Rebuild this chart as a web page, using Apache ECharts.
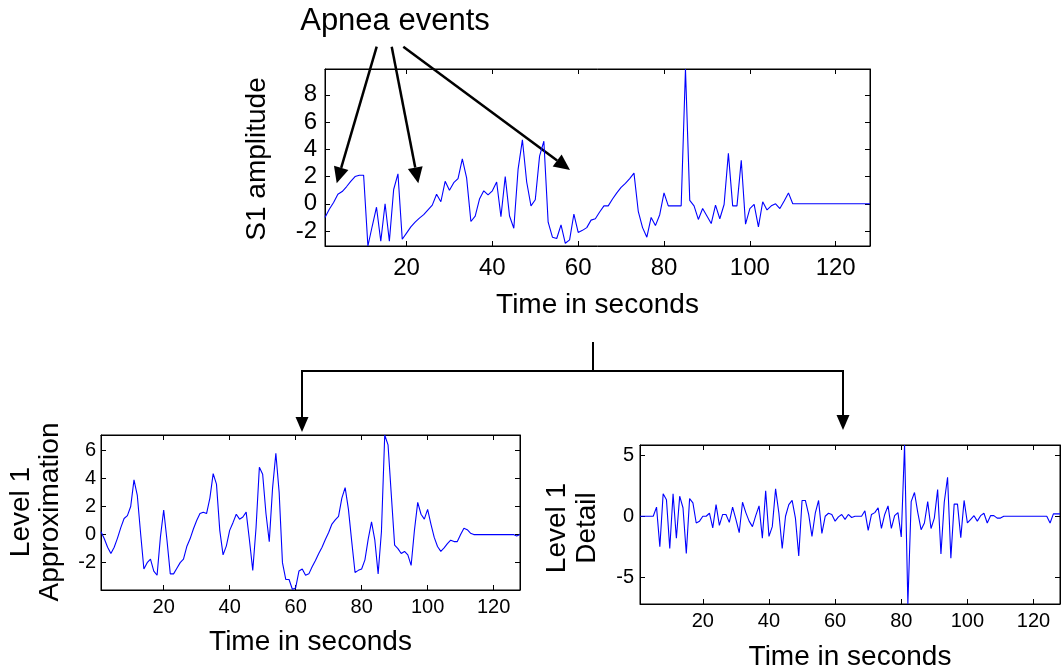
<!DOCTYPE html>
<html>
<head>
<meta charset="utf-8">
<title>S1 amplitude – level 1 wavelet decomposition</title>
<script src="https://cdn.jsdelivr.net/npm/echarts@6/dist/echarts.min.js"></script>
<style>
  html, body { margin: 0; padding: 0; background: #fff; }
  #chart { width: 1061px; height: 672px; }
</style>
</head>
<body>
<div id="chart"></div>
<script>
// Sampled signal, one value per second (t = 1 … 128)
const s1Amplitude = [
  -1.0, -0.4, 0.1, 0.7, 0.9, 1.25, 1.65, 2.0, 2.1, 2.1,
  -3.1, -1.65, -0.25, -2.75, 0.0, -2.75, 1.05, 2.2, -2.6, -2.15,
  -1.7, -1.35, -1.05, -0.8, -0.45, -0.1, 0.7, 0.15, 1.65, 1.0,
  1.55, 1.85, 3.3, 1.9, -1.3, -0.9, 0.35, 0.95, 0.65, 0.95,
  1.6, -0.95, 2.0, -0.9, -1.8, 2.55, 4.7, 1.6, -0.15, 0.3,
  3.5, 4.6, -1.35, -2.45, -2.55, -1.55, -2.9, -2.65, -0.75, -2.1,
  -1.95, -1.75, -1.2, -1.1, -0.6, -0.15, -0.15, 0.35, 0.8, 1.2,
  1.5, 1.85, 2.25, -0.55, -1.75, -2.45, -1.0, -1.6, -0.8, 0.8,
  -0.15, -0.15, -0.15, -0.15, 9.9, 0.25, -0.15, -1.15, -0.35, -0.9,
  -1.45, -0.1, -1.1, -0.05, 3.7, -0.15, -0.15, 3.2, -1.5, -0.35,
  -0.05, -1.7, 0.15, -0.45, -0.15, 0.0, -0.35, 0.2, 0.8, 0.0,
  0, 0, 0, 0, 0, 0, 0, 0, 0, 0,
  0, 0, 0, 0, 0, 0, 0, 0
];

const level1Approx = [
  0.2, -0.3, -0.9, -1.35, -0.9, -0.25, 0.5, 1.15, 1.35, 2.0,
  3.9, 2.8, 0.1, -2.45, -2.0, -1.75, -2.6, -2.9, -0.2, 1.75,
  -0.4, -2.8, -2.8, -2.4, -2.0, -1.75, -0.85, -0.3, 0.4, 1.0,
  1.5, 1.6, 1.5, 2.6, 4.35, 3.6, 0.3, -1.45, -0.8, 0.3,
  0.85, 1.45, 1.1, 1.25, 1.6, -0.4, -2.55, 0.5, 4.8, 4.3,
  1.5, -0.5, 3.3, 5.8, 3.0, -2.0, -3.2, -3.2, -3.9, -3.8,
  -2.6, -2.45, -2.9, -2.8, -2.3, -1.85, -1.35, -0.9, -0.35, 0.15,
  0.75, 1.05, 1.3, 2.6, 3.35, 1.8, -0.5, -2.7, -2.55, -2.45,
  -1.8, -0.3, 0.9, -0.4, -2.8, 0.2, 7.1, 6.4, 2.8, -0.75,
  -1.0, -1.35, -1.2, -1.45, -2.2, 0.3, 2.3, 1.45, 1.1, 1.8,
  0.75, -0.2, -0.85, -1.2, -0.95, -0.65, -0.4, -0.5, -0.5, 0.0,
  0.45, 0.35, 0.1, 0, 0, 0, 0, 0, 0, 0,
  0, 0, 0, 0, 0, 0, -0.1, 0
];

const level1Detail = [
  0, 0, 0, 0, 0, 0.75, -2.5, 1.85, 1.35, -2.65,
  1.85, -1.8, 1.65, 0.7, -3.05, 1.45, 1.1, -0.55, -0.4, 0,
  0, 0.25, -0.95, 0.95, -0.75, 0.15, 0.15, -0.5, 0.75, -0.25,
  -1.35, 1.15, 0.3, -0.4, -0.85, 0.05, 0.85, -1.8, 2.1, -1.65,
  -0.85, 2.25, 0.25, -2.65, 0, 0.95, 1.3, -0.15, -3.25, 1.3,
  1.3, 0.15, -1.65, 0.25, 1.3, -1.4, 0, 0.25, 0.15, -0.4,
  -0.05, 0.15, -0.25, 0.15, -0.1, 0, 0, 0, 0.45, -1.15,
  0.15, 0.3, 0.7, -1.0, 0.15, 0.85, -1.0, 0.05, 0.3, -1.7,
  5.85, -7.2, 1.2, 1.95, 0.3, -1.1, -0.55, 1.2, -1.0, -0.15,
  2.2, -3.1, 1.15, 3.2, -3.45, 1.0, 1.0, -1.75, 1.3, -0.55,
  -0.25, 0.05, -0.4, 0.05, 0.25, -0.55, 0.05, 0.05, -0.15, -0.15,
  0, 0, 0, 0, 0, 0, 0, 0, 0, 0,
  0, 0, 0, 0, -0.55, 0.2, 0.2, 0.2
];

// Tick positions
const timeTicks = [20, 40, 60, 80, 100, 120];
const s1Ticks = [-2, 0, 2, 4, 6, 8];
const approxTicks = [-2, 0, 2, 4, 6];
const detailTicks = [-5, 0, 5];

const FONT = '"Liberation Sans", Arial, Helvetica, sans-serif';
const INK = '#000';
const TRACE = '#0000ff';
const NAME_SIZE = 28;

const toPoints = values => values.map((v, i) => [i + 1, v]);

// Bottom + top time axes (the top one only carries inner ticks, closing the box)
function timeAxes(grid, labelSize, labelMargin, nameGap) {
  const common = {
    type: 'value', gridIndex: grid, min: 1, max: 128,
    axisLine: { show: true, onZero: false, lineStyle: { color: INK, width: 1 } },
    axisTick: { show: true, inside: true, length: 5, customValues: timeTicks, lineStyle: { color: INK, width: 1 } },
    splitLine: { show: false }
  };
  return [
    Object.assign({}, common, {
      position: 'bottom',
      axisLabel: { customValues: timeTicks, color: INK, fontSize: labelSize, fontFamily: FONT, margin: labelMargin },
      name: 'Time in seconds', nameLocation: 'middle', nameGap: nameGap,
      nameTextStyle: { color: INK, fontSize: NAME_SIZE, fontFamily: FONT }
    }),
    Object.assign({}, common, { position: 'top', axisLabel: { show: false } })
  ];
}

// Left + right value axes
function valueAxes(grid, lo, hi, ticks, labelSize, labelMargin) {
  const common = {
    type: 'value', gridIndex: grid, min: lo, max: hi,
    axisLine: { show: true, onZero: false, lineStyle: { color: INK, width: 1 } },
    axisTick: { show: true, inside: true, length: 5, customValues: ticks, lineStyle: { color: INK, width: 1 } },
    splitLine: { show: false }
  };
  return [
    Object.assign({}, common, {
      position: 'left',
      axisLabel: { customValues: ticks, color: INK, fontSize: labelSize, fontFamily: FONT, margin: labelMargin }
    }),
    Object.assign({}, common, { position: 'right', axisLabel: { show: false } })
  ];
}

function trace(values, axisIdx) {
  return {
    type: 'line', data: toPoints(values),
    xAxisIndex: axisIdx, yAxisIndex: axisIdx,
    showSymbol: false, symbol: 'none', clip: true,
    lineStyle: { color: TRACE, width: 1.1 },
    emphasis: { disabled: true }
  };
}

// Straight arrow with a filled triangular head
function arrow(x1, y1, x2, y2, width, headLen, headHalf) {
  const dx = x2 - x1, dy = y2 - y1;
  const len = Math.sqrt(dx * dx + dy * dy);
  const ux = dx / len, uy = dy / len;
  const bx = x2 - ux * headLen, by = y2 - uy * headLen;
  return [
    { type: 'line', silent: true, shape: { x1: x1, y1: y1, x2: bx, y2: by },
      style: { stroke: INK, lineWidth: width } },
    { type: 'polygon', silent: true,
      shape: { points: [[x2, y2], [bx - uy * headHalf, by + ux * headHalf], [bx + uy * headHalf, by - ux * headHalf]] },
      style: { fill: INK } }
  ];
}

function rotatedLabel(text, cx, cy, lineHeight) {
  return {
    type: 'text', silent: true, x: cx, y: cy, rotation: Math.PI / 2,
    style: { text: text, fill: INK, font: NAME_SIZE + 'px ' + FONT, align: 'center', verticalAlign: 'middle', lineHeight: lineHeight }
  };
}

const graphics = [].concat(
  [{ type: 'text', silent: true, x: 395, y: 21,
     style: { text: 'Apnea events', fill: INK, font: '31px ' + FONT, align: 'center', verticalAlign: 'middle' } }],
  arrow(376.7, 46.7, 336.7, 183.3, 2.5, 16, 7.5),
  arrow(391.7, 46.7, 418.3, 183.3, 2.5, 16, 7.5),
  arrow(403.3, 46.7, 570, 170, 2.5, 16, 7.5),
  [
    { type: 'line', silent: true, shape: { x1: 593, y1: 342, x2: 593, y2: 371 }, style: { stroke: INK, lineWidth: 2 } },
    { type: 'line', silent: true, shape: { x1: 301, y1: 371, x2: 844, y2: 371 }, style: { stroke: INK, lineWidth: 2 } }
  ],
  arrow(302, 370, 302, 432, 2, 15, 6.5),
  arrow(843, 370, 843, 430, 2, 15, 6.5),
  [
    rotatedLabel('S1 amplitude', 257, 159, 30),
    rotatedLabel('Level 1\nApproximation', 36, 512, 29),
    rotatedLabel('Level 1\nDetail', 572, 528, 30)
  ]
);

const option = {
  animation: false,
  backgroundColor: '#fff',
  textStyle: { fontFamily: FONT },
  grid: [
    { left: 325, top: 69, width: 545, height: 177, show: true, borderColor: INK, borderWidth: 1, containLabel: false },
    { left: 101, top: 435, width: 419, height: 155, show: true, borderColor: INK, borderWidth: 1, containLabel: false },
    { left: 640, top: 445, width: 420, height: 160, show: true, borderColor: INK, borderWidth: 1, containLabel: false }
  ],
  xAxis: [].concat(
    timeAxes(0, 24, 10, 45),
    timeAxes(1, 20, 7, 38),
    timeAxes(2, 20, 7, 39)
  ),
  yAxis: [].concat(
    valueAxes(0, -3.1, 9.9, s1Ticks, 24, 8),
    valueAxes(1, -3.95, 7.1, approxTicks, 20, 5),
    valueAxes(2, -7.2, 5.85, detailTicks, 20, 6)
  ),
  series: [
    trace(s1Amplitude, 0),
    trace(level1Approx, 2),
    trace(level1Detail, 4)
  ],
  graphic: graphics
};

const chart = echarts.init(document.getElementById('chart'), null, { renderer: 'canvas' });
chart.setOption(option);
</script>
</body>
</html>
